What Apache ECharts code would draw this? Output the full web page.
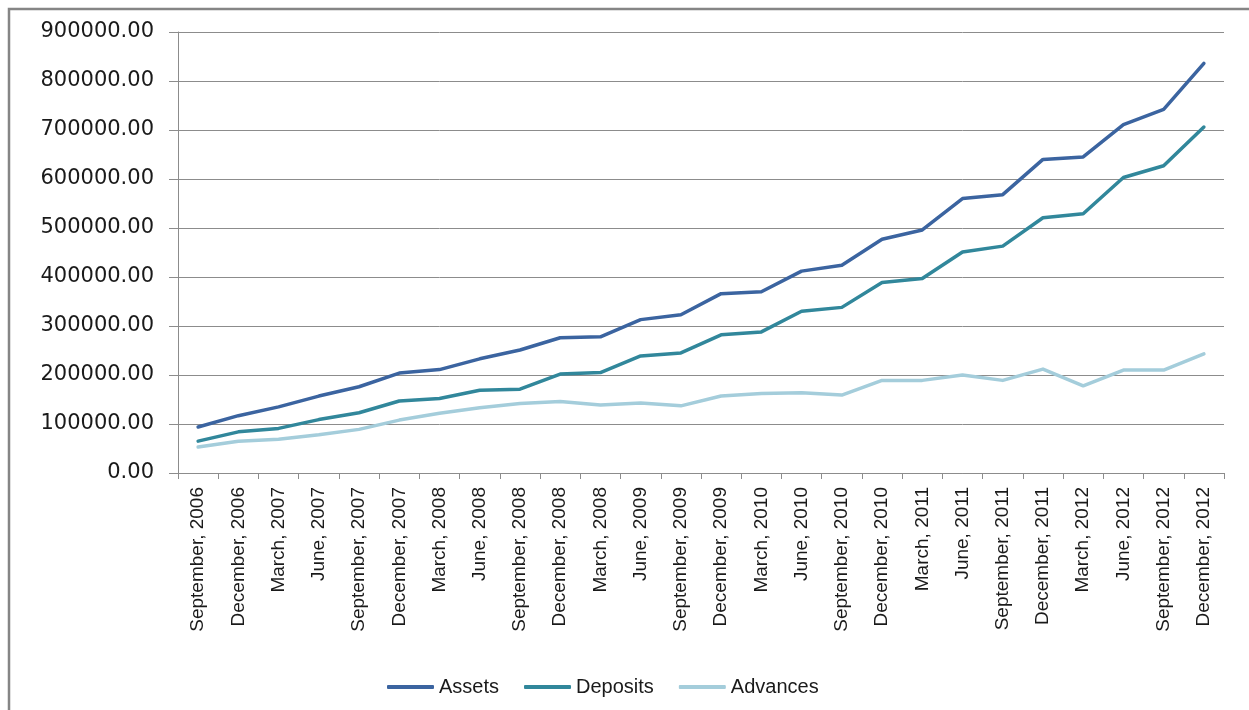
<!DOCTYPE html>
<html>
<head>
<meta charset="utf-8">
<title>Assets, Deposits, Advances</title>
<script src="https://cdn.jsdelivr.net/npm/echarts@6/dist/echarts.min.js"></script>
<style>
    html, body { margin: 0; padding: 0; background: #fff; }
    #chart { width: 1249px; height: 710px; }
</style>
</head>
<body>
<div id="chart"></div>
<script>
// quarters on the x axis
var quarters = [
    'September, 2006', 'December, 2006', 'March, 2007', 'June, 2007',
    'September, 2007', 'December, 2007', 'March, 2008', 'June, 2008',
    'September, 2008', 'December, 2008', 'March, 2008', 'June, 2009',
    'September, 2009', 'December, 2009', 'March, 2010', 'June, 2010',
    'September, 2010', 'December, 2010', 'March, 2011', 'June, 2011',
    'September, 2011', 'December, 2011', 'March, 2012', 'June, 2012',
    'September, 2012', 'December, 2012'
];

// values
var assets = [
    94000, 117000, 135000, 157000, 176000, 204000, 211000, 233000,
    251000, 276000, 278000, 313000, 323000, 366000, 370000, 412000,
    424000, 477000, 496000, 560000, 568000, 640000, 645000, 711000,
    742000, 836000
];
var deposits = [
    65000, 84000, 91000, 109000, 123000, 147000, 152000, 169000,
    171000, 202000, 205000, 239000, 245000, 282000, 288000, 330000,
    338000, 389000, 397000, 451000, 463000, 521000, 529000, 603000,
    627000, 706000
];
var advances = [
    53000, 65000, 69000, 78000, 89000, 108000, 122000, 133000,
    142000, 146000, 139000, 143000, 137000, 157000, 162000, 164000,
    159000, 189000, 189000, 200000, 189000, 212000, 178000, 210000,
    210000, 243000
];

var seriesNames = ['Assets', 'Deposits', 'Advances'];
var seriesColors = ['#3b64a0', '#31879b', '#a4cddb'];
var yTicks = { min: 0, max: 900000, step: 100000 };

var chart = echarts.init(document.getElementById('chart'));

function lineSeries(name, data, color) {
    return {
        name: name,
        type: 'line',
        data: data,
        showSymbol: false,
        symbol: 'none',
        smooth: false,
        animation: false,
        lineStyle: { width: 3.5, color: color, cap: 'round', join: 'round' },
        itemStyle: { color: color }
    };
}

var option = {
    backgroundColor: '#fff',
    animation: false,
    grid: {
        left: 178,
        right: 25,
        top: 32,
        bottom: 237,
        containLabel: false
    },
    legend: {
        left: 382,
        top: 672,
        itemWidth: 47,
        itemHeight: 4,
        itemGap: 25,
        icon: 'roundRect',
        textStyle: {
            fontFamily: 'Liberation Sans',
            fontSize: 20,
            color: '#1a1a1a'
        },
        data: seriesNames
    },
    xAxis: {
        type: 'category',
        data: quarters,
        boundaryGap: true,
        axisLine: { lineStyle: { color: '#8c8c8c', width: 1 } },
        axisTick: { show: true, length: 6, lineStyle: { color: '#8c8c8c' } },
        splitLine: { show: false },
        axisLabel: {
            interval: 0,
            rotate: 90,
            margin: 14,
            fontFamily: 'Liberation Sans',
            fontSize: 19,
            color: '#1a1a1a'
        }
    },
    yAxis: {
        type: 'value',
        min: yTicks.min,
        max: yTicks.max,
        interval: yTicks.step,
        axisLine: { show: true, lineStyle: { color: '#8c8c8c', width: 1 } },
        axisTick: { show: true, length: 9, lineStyle: { color: '#8c8c8c' } },
        splitLine: { show: true, lineStyle: { color: '#8c8c8c', width: 1 } },
        axisLabel: {
            margin: 24,
            fontFamily: 'DejaVu Sans',
            fontSize: 21,
            color: '#1a1a1a',
            formatter: function (val) {
                return val.toFixed(2);
            }
        }
    },
    // outer frame, left and top edges only
    graphic: [{
        type: 'polyline',
        silent: true,
        shape: { points: [[9, 710], [9, 9], [1249, 9]] },
        style: { stroke: '#858585', lineWidth: 2.5, fill: null }
    }],
    series: [
        lineSeries(seriesNames[0], assets, seriesColors[0]),
        lineSeries(seriesNames[1], deposits, seriesColors[1]),
        lineSeries(seriesNames[2], advances, seriesColors[2])
    ]
};

chart.setOption(option);
</script>
</body>
</html>
